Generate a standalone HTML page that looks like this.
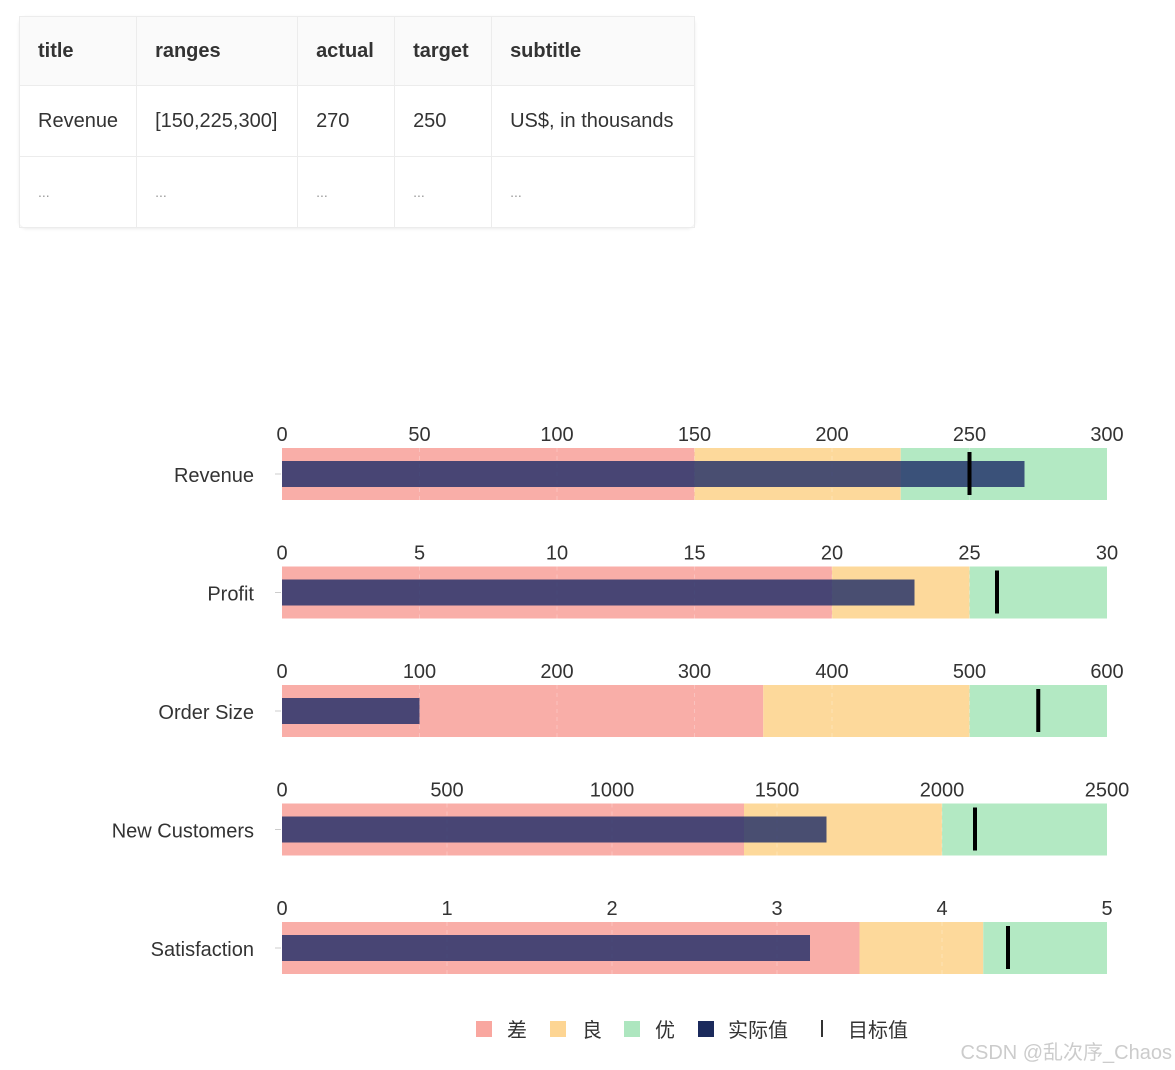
<!DOCTYPE html>
<html><head><meta charset="utf-8"><style>
body{margin:0;width:1175px;height:1070px;background:#fff;font-family:"Liberation Sans","Noto Sans CJK SC",sans-serif;overflow:hidden;position:relative}
table{position:absolute;left:19px;top:16px;border-collapse:collapse;border:1px solid #e6e6e6;font-size:20px;color:#333;border-radius:8px;box-shadow:0 1px 3px rgba(0,0,0,.08)}
td,th{border:1px solid #ececec;padding:0 18px;text-align:left;white-space:nowrap}
th{height:68px;font-weight:bold;background:#fafafa}
td{height:70px}
tr.dots td{color:#999;font-size:14px}
</style></head><body>
<table>
<tr><th style="width:80px">title</th><th style="width:124px">ranges</th><th style="width:60px">actual</th><th style="width:60px">target</th><th style="width:166px">subtitle</th></tr>
<tr><td>Revenue</td><td>[150,225,300]</td><td>270</td><td>250</td><td>US$, in thousands</td></tr>
<tr class="dots"><td>...</td><td>...</td><td>...</td><td>...</td><td>...</td></tr>
</table>
<svg id="chart" width="1175" height="1070" style="position:absolute;left:0;top:0"></svg>
<script>
const titles=["Revenue","Profit","Order Size","New Customers","Satisfaction"];
const ranges=[[150,225,300],[20,25,30],[350,500,600],[1400,2000,2500],[3.5,4.25,5]];
const actuals=[270,23,100,1650,3.2];
const targets=[250,26,550,2100,4.4];
const ticks=[[0,50,100,150,200,250,300],[0,5,10,15,20,25,30],[0,100,200,300,400,500,600],[0,500,1000,1500,2000,2500],[0,1,2,3,4,5]];
const NS="http://www.w3.org/2000/svg",svg=document.getElementById('chart');
function mk(t,a,p){const e=document.createElementNS(NS,t);for(const k in a)e.setAttribute(k,a[k]);(p||svg).appendChild(e);return e;}
const X0=282,W=825,colors=["#f9aea8","#fdd99b","#b3e9c3"];
titles.forEach((t,i)=>{
  const top=448+i*118.5,max=ranges[i][2];
  const x=v=>X0+v/max*W;
  const g=mk('g',{});
  
  
  let prev=0;
  ranges[i].forEach((r,j)=>{
    const rc=mk('rect',{x:x(prev),y:top,width:x(r)-x(prev),height:52,fill:colors[j]},g);
    
    
    prev=r;
  });
  ticks[i].forEach(v=>{
    if(v>0&&v<max){const l=mk('line',{x1:x(v),x2:x(v),y1:top,y2:top+52,stroke:'#fff','stroke-opacity':0.25,'stroke-dasharray':'4 4'},g);
    }
    const tx=mk('text',{x:x(v),y:top-7,'text-anchor':'middle','font-size':20,fill:'#333'},g);
    tx.textContent=v;
    
    
  });
  const b=mk('rect',{x:X0,y:top+13,width:x(actuals[i])-X0,height:26,fill:'#1b2a66','fill-opacity':0.8},g);
  
  
  const m=mk('rect',{x:x(targets[i])-2,y:top+4,width:4,height:43,fill:'#000'},g);
  
  
  mk('line',{x1:275,x2:281,y1:top+26,y2:top+26,stroke:'#ccc'},g);
  const lb=mk('text',{x:254,y:top+34,'text-anchor':'end','font-size':20,fill:'#333'},g);
  lb.textContent=t;
  
  
});
const leg=[["差","#f9a7a0",476,507],["良","#fdd593",550,582],["优","#ade6bf",624,655],["实际值","#1b2a5c",698,728]];
leg.forEach(l=>{
  const s=mk('rect',{x:l[2],y:1021,width:16,height:16,fill:l[1]});
  
  
  const tx=mk('text',{x:l[3],y:1037,'font-size':20,fill:'#333'});
  tx.textContent=l[0];
  
  
});
const tm=mk('rect',{x:821,y:1020,width:2,height:17,fill:'#333'});


const tt=mk('text',{x:848,y:1037,'font-size':20,fill:'#333'});
tt.textContent="目标值";


const wm=mk('text',{x:1172,y:1059,'text-anchor':'end','font-size':20,fill:'#ccc'});
wm.textContent="CSDN @乱次序_Chaos";


</script>
</body></html>
